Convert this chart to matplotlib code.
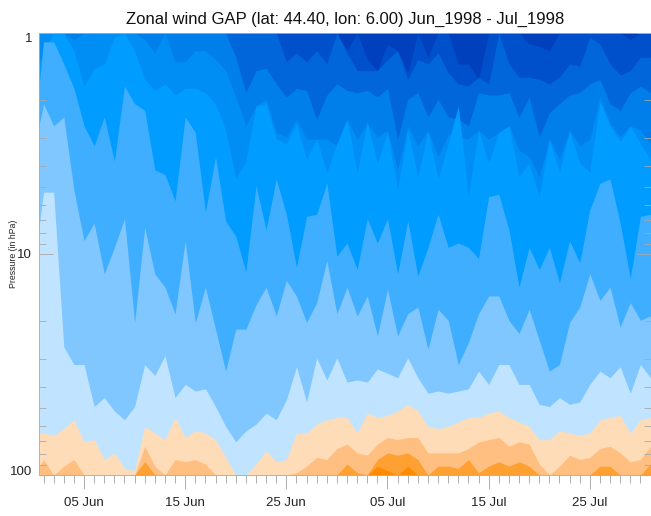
import numpy as np
import matplotlib
matplotlib.use("Agg")
import matplotlib.pyplot as plt

plt.rcParams['font.family'] = ['Liberation Sans', 'DejaVu Sans']

# Day of period (1 = 1 Jun, 31 = 1 Jul)
days = [0.55] + list(range(1, 62))

# Pressure of each contour line per day, as 100*log10(hPa), top to bottom
c1 = [0]*30 + [0,8,0,12,17,5,8,18,0,11] + [0,0,14,14,21,0,0,0,0,5] + [6,8,0,0,0,0,0,0,0,3] + [0,0]
c2 = [0]*20 + [0,0,0,0,0,13,9,13,8,14] + [0,9,17,17,17,12,8,21,12,14] + \
     [9,18,23,24,20,23,0,14,20,20] + [21,23,20,14,15,2,5,14,19,17] + [11,11]
c3 = [0]*20 + [11,27,17,16,23,29,25,26,39,28] + [23,26,27,26,29,25,48,30,27,38] + \
     [30,38,39,42,27,28,28,27,38,29] + [47,36,32,28,27,23,21,32,35,27] + [24,27]
c4 = [0,0,0,0,3,0,0,0,0,0] + [0,3,9,0,13,13,8,8,12,17] + [29,42,33,30,45,47,39,48,48,48] + \
     [51,39,48,41,47,44,62,42,51,44] + [56,46,47,48,44,48,45,42,53,56] + \
     [65,48,57,44,51,48,29,41,47,42] + [44,50]
c5 = [14,8,0,0,8,24,16,14,2,0] + [8,21,26,23,28,25,25,27,32,44] + [66,58,33,32,48,50,41,57,48,63] + \
     [50,39,63,40,59,45,71,44,65,45] + [66,50,33,74,44,59,45,42,65,59] + \
     [74,48,63,44,59,63,31,42,49,42] + [50,57]
c6 = [24,4,4,14,25,42,51,38,58,24] + [32,35,62,64,76,38,45,81,56,85] + [92,108,69,89,66,82,106,83,82,68] + \
     [101,95,107,84,95,84,109,85,110,97] + [82,97,95,97,102,74,73,89,115,97] + \
     [107,97,113,94,104,80,68,66,86,111] + [83,82]
c7 = [42,32,42,38,71,94,86,109,97,84] + [131,88,109,115,127,94,131,115,134,153] + \
     [134,134,123,115,128,112,119,131,122,103] + [127,115,128,119,137,116,137,127,124,143] + \
     [125,130,150,140,127,119,119,130,136,125] + [139,153,150,131,124,109,121,115,133,122] + [130,128]
c8 = [88,72,72,142,150,150,169,165,171,175] + [169,150,155,146,165,159,162,161,169,178] + \
     [185,180,177,172,175,166,151,167,147,157] + [147,158,157,158,152,154,156,147,156,163] + \
     [162,163,162,161,153,159,150,150,159,159] + [168,169,165,168,167,159,153,156,151,163] + [150,156]
c9 = [181,181,182,179,175,185,184,193,190,197] + [198,178,181,184,174,183,180,181,184,192] + \
     [200,200,195,189,194,193,181,181,177,175] + [174,174,181,172,174,173,171,168,171,178] + \
     [179,178,176,174,174,172,171,174,176,178] + [184,184,180,181,182,181,175,174,173,181] + [175,174]
c10 = [196,193,200,196,193,200,200,200,200,200] + [200,187,196,200,193,194,193,195,200,200] + \
      [200,200,200,200,200,200,199,196,192,193] + [188,186,190,191,186,183,184,183,183,190] + \
      [190,190,190,188,185,184,183,187,185,186] + [195,200,196,191,193,192,188,187,190,194] + [193,187]
c11 = [200]*10 + [200,194,200,200,200,200,200,200,200,200] + [200]*10 + \
      [200,195,199,200,193,190,191,190,193,200] + [196,196,197,193,199,196,194,196,194,196] + \
      [200,200,200,200,200,200,196,196,200,200] + [200,195]
c12 = [200]*30 + [200,200,200,200,196,198,200,196,200,200] + [200]*22

contours = [c1, c2, c3, c4, c5, c6, c7, c8, c9, c10, c11, c12]
colors = ['#0040bc', '#0050cc', '#0066da', '#007ee9', '#008ef5', '#009cff', '#40aeff',
          '#80c6ff', '#c0e4ff', '#ffdcb8', '#ffbf80', '#ffa033', '#ff8c00']

title = 'Zonal wind GAP (lat: 44.40, lon: 6.00) Jun_1998 - Jul_1998'
ylabel = 'Pressure (in hPa)'
xticks = [5, 15, 25, 35, 45, 55]
xticklabels = ['05 Jun', '15 Jun', '25 Jun', '05 Jul', '15 Jul', '25 Jul']

W, H = 651, 516
fig = plt.figure(figsize=(W/100, H/100), dpi=100, facecolor='white')
ax = fig.add_axes([39/W, 1-475/H, (650.5-39)/W, (475-33)/H])

x = np.array(days, dtype=float)
ax.set_yscale('log')
ax.fill_between(x, 1, 100, color=colors[0], lw=0)
for line, col in zip(contours, colors[1:]):
    p = 10**(np.array(line, dtype=float)/100)
    ax.fill_between(x, p, 100, color=col, lw=0)

ax.set_xlim(0.55, 61)
ax.set_ylim(100, 1)

ax.set_yticks([1, 10, 100])
ax.set_yticklabels(['1', '10', '100'], fontsize=9.5, color='#222222')
labs = ax.get_yticklabels()
labs[0].set_va('top')
labs[2].set_va('baseline')
ax.yaxis.set_minor_locator(matplotlib.ticker.LogLocator(base=10, subs=np.arange(2, 10)))
ax.yaxis.set_minor_formatter(matplotlib.ticker.NullFormatter())
ax.tick_params(axis='y', which='major', direction='in', length=10, width=0.6,
               color='#a8a8a8', left=True, right=True, pad=5)
ax.tick_params(axis='y', which='minor', direction='in', length=5, width=0.6,
               color='#a8a8a8', left=True, right=True)

ax.set_xticks(xticks)
ax.set_xticklabels(xticklabels, fontsize=9.5, color='#222222')
ax.set_xticks(np.arange(1, 61), minor=True)
ax.tick_params(axis='x', which='major', direction='out', length=10, width=0.6,
               color='#a0a0a0', pad=12)
ax.tick_params(axis='x', which='minor', direction='out', length=6, width=0.6, color='#a0a0a0')
for t in ax.get_xticklabels():
    t.set_y(0)
ax.tick_params(axis='x', which='major', pad=6)

for s in ax.spines.values():
    s.set_color('#b0b0b0')
    s.set_linewidth(0.6)

fig.text(345/W, 1-19/H, title, ha='center', va='center', fontsize=12, color='#111111')
fig.text(14/W, 1-254/H, ylabel, rotation=90, ha='center', va='center', fontsize=6.3, color='#222222')

fig.savefig('out.png', dpi=100, facecolor='white')
